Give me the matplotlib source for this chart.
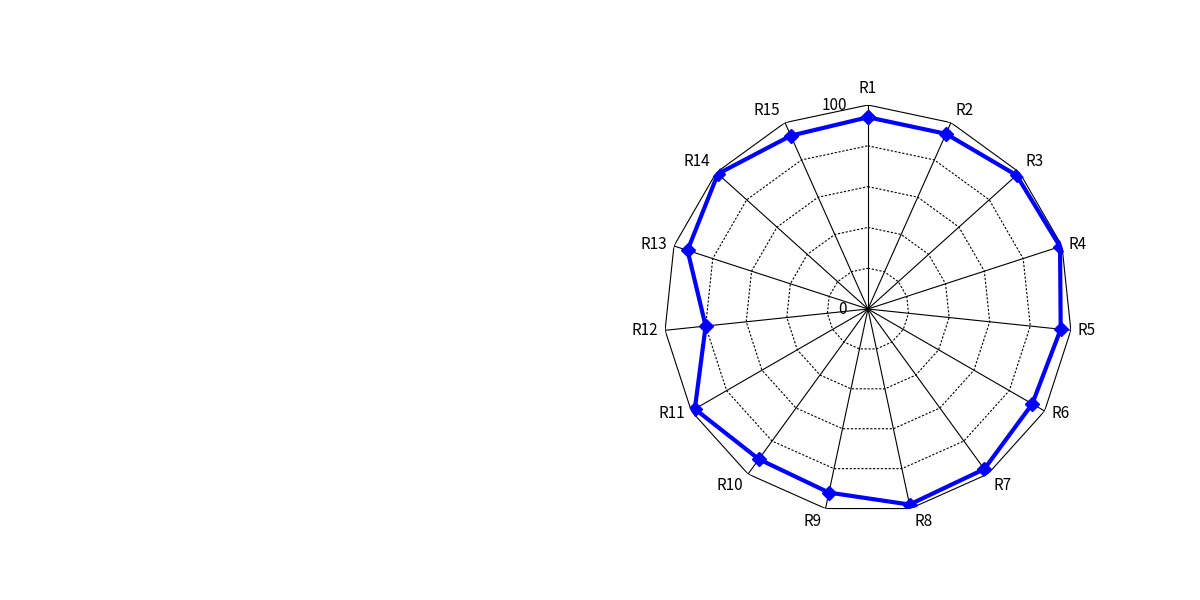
import numpy as np
import matplotlib.pyplot as plt

plt.rcParams['font.family'] = ['Noto Sans CJK JP', 'DejaVu Sans']

labels = ['R1', 'R2', 'R3', 'R4', 'R5', 'R6', 'R7', 'R8',
          'R9', 'R10', 'R11', 'R12', 'R13', 'R14', 'R15']
values = [94, 94, 98, 99, 95, 93, 97, 98, 92, 91, 98, 80, 93, 99, 93]
levels = [20, 40, 60, 80, 100]
tick_labels = {0: '0', 100: '100'}

n = len(labels)
theta = np.arange(n) * 2 * np.pi / n
theta_c = np.append(theta, theta[0])
vals_c = np.append(values, values[0])

fig = plt.figure(figsize=(12, 6), dpi=100)
ax = fig.add_axes([0.5533, 0.145, 0.34, 0.68], projection='polar')
ax.set_theta_zero_location('N')
ax.set_theta_direction(-1)
ax.axis('off')

# grid polygons
for lv in levels:
    ls = '-' if lv == levels[-1] else (0, (2, 1.5))
    ax.plot(theta_c, [lv] * (n + 1), color='black', lw=0.8, ls=ls)

# spokes
for t in theta:
    ax.plot([t, t], [0, levels[-1]], color='black', lw=0.8)

# series
ax.plot(theta_c, vals_c, color='#0000ff', lw=3, marker='D', ms=7,
        solid_joinstyle='miter')

ax.set_ylim(0, 100)

# category labels
for t, lab in zip(theta, labels):
    s, c = np.sin(t), np.cos(t)
    ha = 'left' if s > 0.1 else ('right' if s < -0.1 else 'center')
    va = 'bottom' if c > 0.6 else ('top' if c < -0.6 else 'center')
    off = 6 if lab == 'R1' else 3
    ax.annotate(lab, xy=(t, 100), xytext=(off * s + 2 * np.sign(s), off * c),
                textcoords='offset points', ha=ha, va=va, fontsize=11)

# value axis labels
for v, txt in tick_labels.items():
    ax.annotate(txt, xy=(0, v), xytext=(-15, 0), textcoords='offset points',
                ha='right', va='center', fontsize=11)

fig.savefig('out.png', dpi=100)
